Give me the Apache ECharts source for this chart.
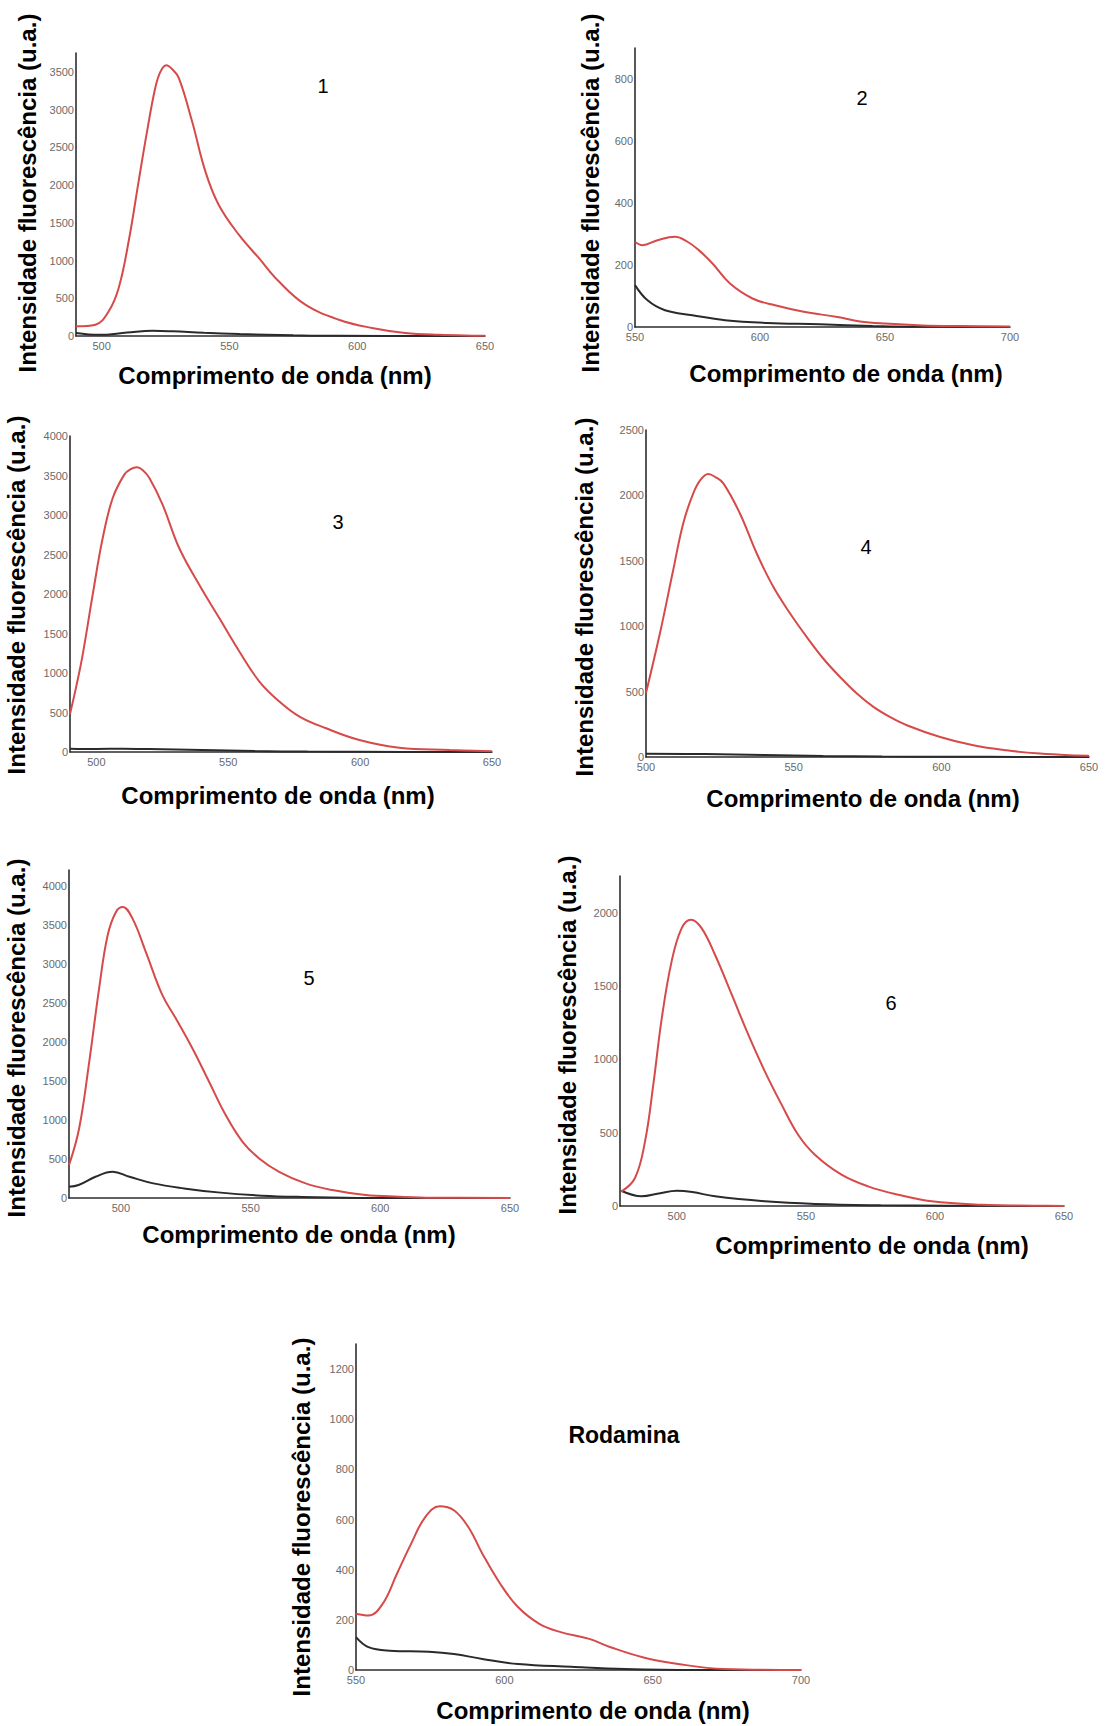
<!DOCTYPE html>
<html>
<head>
<meta charset="utf-8">
<script src="https://cdn.jsdelivr.net/npm/echarts@6/dist/echarts.min.js"></script>
<style>
html,body{margin:0;padding:0;background:#fff;}
#chart{width:1105px;height:1726px;}
</style>
</head>
<body>
<div id="chart"></div>
<script>
// ---------- DATA ----------
// Panel 1
const wl1Red   = [490,497.6,502.8,506.7,510.6,514.5,517.8,521,523,525.3,527.5,530.2,535.4,540.6,545.8,553.7,561.5,569.3,579.7,592.8,605.8,618.8,631.9,647.5,650];
const red1     = [128,150,327,636,1255,2050,2712,3286,3500,3587,3540,3419,2845,2182,1740,1342,1034,725,415,216,106,40,15,3,2];
const wl1Black = [490,499,510,520,528,540,554,575,593,650];
const black1   = [40,15,45,70,62,42,26,10,2,0];
const xTicks1  = [500,550,600,650];
const yTicks1  = [0,500,1000,1500,2000,2500,3000,3500];

// Panel 2
const wl2Red   = [550,553,559,566,571,575.5,581,588,597,606,617,631,640,650,665,680,700];
const red2     = [275,264,280,291,275,248,205,140,92,70,50,32,18,11,5,3,2];
const wl2Black = [550,555,562,573,586,603,624,645,660,700];
const black2   = [135,86,54,38,22,13,9,3,1,0];
const xTicks2  = [550,600,650,700];
const yTicks2  = [0,200,400,600,800];

// Panel 3
const wl3Red   = [490,492.5,494.8,498.6,502.4,506.2,510.6,513,515.4,517.5,520.1,525.1,531.4,539,546.6,554.2,561.8,569.4,577,587.1,599.7,614.9,633.9,650];
const red3     = [480,850,1230,1990,2708,3215,3511,3580,3604,3570,3469,3131,2582,2117,1695,1272,892,639,449,300,152,55,26,8];
const wl3Black = [490,500,510,520,540,560,580,600,650];
const black3   = [42,38,42,38,25,12,5,2,0];
const xTicks3  = [500,550,600,650];
const yTicks3  = [0,500,1000,1500,2000,2500,3000,3500,4000];

// Panel 4
const wl4Red   = [500,504.7,509.2,512.6,516,518.5,521.1,523.5,526.2,531.8,537.5,543.1,548.8,554.4,560,565.7,571.4,577,582.6,588.3,599.6,610.8,622.1,633.4,643.6,650];
const red4     = [490,944,1428,1786,2015,2120,2163,2140,2092,1862,1556,1301,1097,918,753,612,485,383,306,243,153,90,51,26,13,10];
const wl4Black = [500,520,540,560,580,600,650];
const black4   = [25,22,15,8,4,2,0];
const xTicks4  = [500,550,600,650];
const yTicks4  = [0,500,1000,1500,2000,2500];

// Panel 5
const wl5Red   = [480,483.9,487.8,491.6,494.9,498.1,500.7,504.5,509.6,516,521.2,527.6,534,540.4,546.9,553.3,561,571.2,581.5,594.3,607.2,620,650];
const red5     = [420,890,1744,2681,3364,3663,3727,3577,3151,2597,2298,1914,1488,1062,720,507,336,187,102,38,17,4,0];
const wl5Black = [480,483.7,490.2,496.8,503.3,512.5,524.3,537.4,554.3,570,596,650];
const black5   = [145,166,272,336,272,187,123,72,30,13,0,0];
const xTicks5  = [500,550,600,650];
const yTicks5  = [0,500,1000,1500,2000,2500,3000,3500,4000];

// Panel 6
const wl6Red   = [478.5,483.8,487.7,490.9,494.2,498,501.9,505.5,509.6,514.8,521.3,527.7,534.1,540.6,547,553.5,563.8,574.1,585.8,598.7,618,640,650];
const red6     = [98,191,441,827,1282,1668,1895,1952,1895,1713,1441,1168,918,691,486,350,214,134,77,32,9,2,0];
const wl6Black = [478.5,486.4,493,500,506,514.8,534.1,553.5,579,605,650];
const black6   = [104,66,85,104,95,66,32,14,5,2,0];
const xTicks6  = [500,550,600,650];
const yTicks6  = [0,500,1000,1500,2000];

// Panel 7 (Rodamina)
const wl7Red   = [550,554.2,559,563.8,568.6,573.4,578.2,583,587.8,592.6,598.6,604.6,611.8,619,628.6,635.8,646.6,658.6,674.2,700];
const red7     = [224,217,264,384,504,611,653,637,571,464,344,251,184,151,124,91,51,24,4,0];
const wl7Black = [550,554.2,561.4,574.6,583,592.6,604.6,622.6,640.6,664.6,700];
const black7   = [131,91,77,73,64,44,24,13,4,0,0];
const xTicks7  = [550,600,650,700];
const yTicks7  = [0,200,400,600,800,1000,1200];

const panelLabels = ['1','2','3','4','5','6','Rodamina'];
const xTitle = 'Comprimento de onda (nm)';
const yTitle = 'Intensidade fluorescência (u.a.)';

// ---------- LAYOUT ----------
const zip = (a, b) => a.map((v, i) => [v, b[i]]);
const panels = [
  {grid:{left:76,  top:53,   width:409, height:283}, xr:[490,650], yr:[0,3750], xt:xTicks1, yt:yTicks1, red:zip(wl1Red,red1), blk:zip(wl1Black,black1), yT:[27,193],  xT:[275,375],  lab:[323,86],   labBold:false},
  {grid:{left:635, top:48,   width:375, height:279}, xr:[550,700], yr:[0,900],  xt:xTicks2, yt:yTicks2, red:zip(wl2Red,red2), blk:zip(wl2Black,black2), yT:[590,193], xT:[846,373],  lab:[862,98],   labBold:false},
  {grid:{left:70,  top:436,  width:422, height:316}, xr:[490,650], yr:[0,4000], xt:xTicks3, yt:yTicks3, red:zip(wl3Red,red3), blk:zip(wl3Black,black3), yT:[16,595],  xT:[278,795],  lab:[338,522],  labBold:false},
  {grid:{left:646, top:430,  width:443, height:327}, xr:[500,650], yr:[0,2500], xt:xTicks4, yt:yTicks4, red:zip(wl4Red,red4), blk:zip(wl4Black,black4), yT:[584,597], xT:[863,798],  lab:[866,547],  labBold:false},
  {grid:{left:69,  top:870,  width:441, height:328}, xr:[480,650], yr:[0,4200], xt:xTicks5, yt:yTicks5, red:zip(wl5Red,red5), blk:zip(wl5Black,black5), yT:[16,1038], xT:[299,1234], lab:[309,978],  labBold:false},
  {grid:{left:620, top:876,  width:444, height:330}, xr:[478,650], yr:[0,2250], xt:xTicks6, yt:yTicks6, red:zip(wl6Red,red6), blk:zip(wl6Black,black6), yT:[567,1035],xT:[872,1245], lab:[891,1003], labBold:false},
  {grid:{left:356, top:1344, width:445, height:326}, xr:[550,700], yr:[0,1300], xt:xTicks7, yt:yTicks7, red:zip(wl7Red,red7), blk:zip(wl7Black,black7), yT:[301,1517],xT:[593,1710], lab:[624,1435], labBold:true}
];

const FONT = '"Liberation Sans", Arial, Helvetica, sans-serif';
const AXIS_COLOR = '#2e2e2e';
const RED = '#d64a4a';
const BLACK = '#2a2a2a';
const fmt = v => String(v);

const grids = [], xAxes = [], yAxes = [], series = [], graphics = [];
panels.forEach((p, i) => {
  grids.push(Object.assign({outerBoundsMode:'none', containLabel:false}, p.grid));
  xAxes.push({
    type:'value', gridIndex:i, min:p.xr[0], max:p.xr[1],
    axisLine:{show:true, onZero:false, lineStyle:{color:AXIS_COLOR, width:1.6}},
    axisTick:{show:false}, splitLine:{show:false},
    axisLabel:{customValues:p.xt, formatter:fmt, color:'#6a6a6a', fontSize:11, fontFamily:FONT, margin:4}
  });
  yAxes.push({
    type:'value', gridIndex:i, min:p.yr[0], max:p.yr[1],
    axisLine:{show:true, onZero:false, lineStyle:{color:AXIS_COLOR, width:1.6}},
    axisTick:{show:false}, splitLine:{show:false},
    axisLabel:{customValues:p.yt, formatter:fmt, color:'#6a6a6a', fontSize:11, fontFamily:FONT, margin:2}
  });
  series.push({type:'line', xAxisIndex:i, yAxisIndex:i, data:p.blk, smooth:0.4, symbol:'none',
    lineStyle:{color:BLACK, width:2}, z:2});
  series.push({type:'line', xAxisIndex:i, yAxisIndex:i, data:p.red, smooth:0.4, symbol:'none',
    lineStyle:{color:RED, width:2}, z:3});
  graphics.push({type:'text', x:p.yT[0], y:p.yT[1], rotation:Math.PI/2,
    style:{text:yTitle, font:'bold 24px ' + FONT, fill:'#000', align:'center', verticalAlign:'middle'}});
  graphics.push({type:'text', x:p.xT[0], y:p.xT[1],
    style:{text:xTitle, font:'bold 24px ' + FONT, fill:'#000', align:'center', verticalAlign:'middle'}});
  graphics.push({type:'text', x:p.lab[0], y:p.lab[1],
    style:{text:panelLabels[i], font:(p.labBold ? 'bold 23px ' : '20px ') + FONT, fill:'#000', align:'center', verticalAlign:'middle'}});
});

const chart = echarts.init(document.getElementById('chart'), null, {renderer:'svg', width:1105, height:1726});
chart.setOption({
  backgroundColor:'#ffffff',
  animation:false,
  grid:grids, xAxis:xAxes, yAxis:yAxes, series:series,
  graphic:{elements:graphics}
});
</script>
</body>
</html>
